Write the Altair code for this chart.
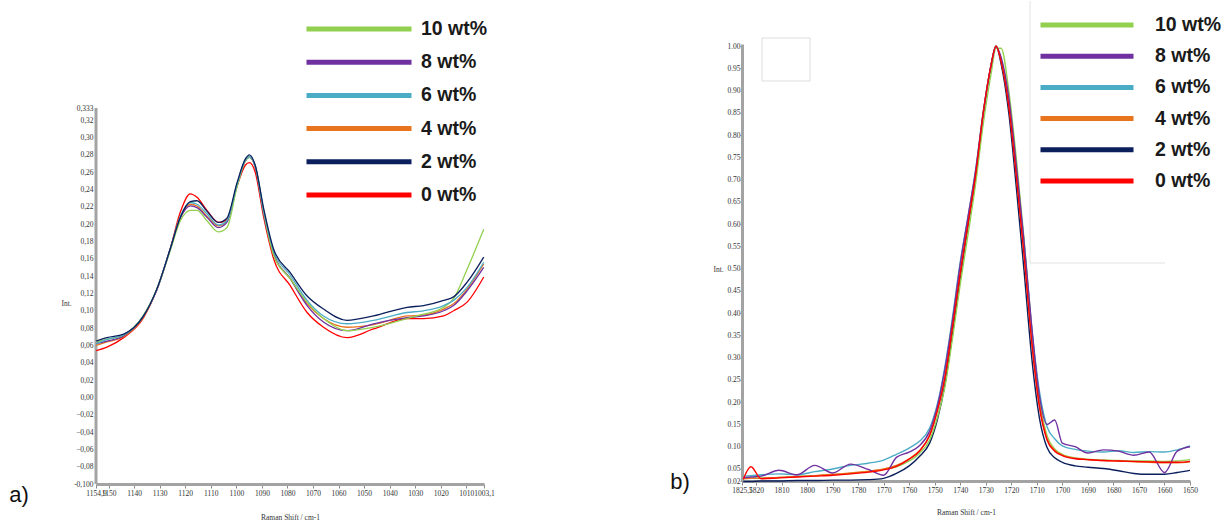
import altair as alt
import pandas as pd

series = ["10 wt%", "8 wt%", "6 wt%", "4 wt%", "2 wt%", "0 wt%"]
colors = ["#92D050", "#7030A0", "#4BACC6", "#E8741E", "#0B1F5C", "#FF0000"]

# ---------------- panel a ----------------
a_shift = [1154.8, 1150.6, 1144.1, 1136.3, 1131.1, 1125.9, 1121.9, 1118.0, 1115.4, 1111.5,
           1107.0, 1103.7, 1099.7, 1096.5, 1094.9, 1092.6, 1089.3, 1085.4, 1078.9, 1072.3,
           1065.9, 1056.7, 1046.3, 1033.2, 1026.7, 1018.9, 1015.0, 1009.7, 1003.2]
a_10 = [0.064, 0.067, 0.072, 0.095, 0.125, 0.169, 0.204, 0.216, 0.216, 0.204,
        0.191, 0.196, 0.243, 0.273, 0.277, 0.267, 0.214, 0.164, 0.137, 0.110,
        0.091, 0.077, 0.081, 0.091, 0.096, 0.104, 0.114, 0.148, 0.194]
a_8 = [0.062, 0.065, 0.071, 0.094, 0.124, 0.171, 0.207, 0.221, 0.219, 0.208,
       0.196, 0.202, 0.245, 0.273, 0.277, 0.266, 0.212, 0.166, 0.137, 0.106,
       0.087, 0.077, 0.085, 0.092, 0.094, 0.100, 0.106, 0.123, 0.150]
a_6 = [0.062, 0.067, 0.072, 0.094, 0.125, 0.171, 0.209, 0.225, 0.223, 0.212,
       0.199, 0.204, 0.246, 0.274, 0.278, 0.267, 0.216, 0.169, 0.141, 0.112,
       0.094, 0.085, 0.089, 0.098, 0.100, 0.106, 0.112, 0.127, 0.156]
a_4 = [0.060, 0.064, 0.070, 0.093, 0.124, 0.171, 0.208, 0.223, 0.221, 0.209,
       0.198, 0.203, 0.246, 0.273, 0.278, 0.266, 0.213, 0.166, 0.137, 0.108,
       0.091, 0.081, 0.084, 0.094, 0.095, 0.102, 0.108, 0.125, 0.154]
a_2 = [0.065, 0.069, 0.073, 0.094, 0.125, 0.171, 0.208, 0.226, 0.227, 0.215,
       0.202, 0.207, 0.248, 0.275, 0.280, 0.268, 0.218, 0.171, 0.144, 0.117,
       0.102, 0.089, 0.094, 0.104, 0.106, 0.112, 0.116, 0.133, 0.162]
a_0 = [0.054, 0.058, 0.069, 0.092, 0.125, 0.171, 0.214, 0.235, 0.231, 0.216,
       0.202, 0.205, 0.244, 0.268, 0.271, 0.260, 0.208, 0.160, 0.129, 0.098,
       0.081, 0.069, 0.079, 0.091, 0.091, 0.094, 0.100, 0.110, 0.139]

a_xticks = [1154.9, 1150, 1140, 1130, 1120, 1110, 1100, 1090, 1080, 1070, 1060,
            1050, 1040, 1030, 1020, 1010, 1003.1]
a_yticks = [-0.10, -0.08, -0.06, -0.04, -0.02, 0.00, 0.02, 0.04, 0.06, 0.08, 0.10,
            0.12, 0.14, 0.16, 0.18, 0.20, 0.22, 0.24, 0.26, 0.28, 0.30, 0.32, 0.333]

# ---------------- panel b ----------------
b_shift = [1825, 1822, 1818, 1811, 1804, 1797, 1790, 1783, 1776, 1770,
           1765, 1760, 1756, 1752, 1749, 1746, 1743, 1740, 1737, 1734,
           1731, 1728, 1726, 1724, 1721, 1718, 1715, 1712, 1709, 1706,
           1703, 1700, 1695, 1690, 1684, 1678, 1672, 1666, 1660, 1655, 1650]
b_10 = [0.029, 0.030, 0.030, 0.031, 0.033, 0.035, 0.037, 0.040, 0.044, 0.049,
        0.055, 0.068, 0.085, 0.115, 0.165, 0.235, 0.345, 0.465, 0.575, 0.690,
        0.825, 0.935, 0.995, 0.995, 0.900, 0.745, 0.565, 0.365, 0.205, 0.125,
        0.095, 0.083, 0.075, 0.072, 0.070, 0.069, 0.068, 0.068, 0.067, 0.068, 0.071]
b_8 = [0.030, 0.032, 0.034, 0.047, 0.037, 0.058, 0.041, 0.061, 0.049, 0.036,
       0.076, 0.088, 0.102, 0.135, 0.190, 0.275, 0.385, 0.510, 0.615, 0.720,
       0.850, 0.955, 0.998, 0.975, 0.885, 0.730, 0.560, 0.370, 0.215, 0.150,
       0.160, 0.108, 0.100, 0.086, 0.093, 0.090, 0.081, 0.088, 0.042, 0.090, 0.100]
b_6 = [0.034, 0.035, 0.037, 0.039, 0.037, 0.044, 0.050, 0.058, 0.063, 0.070,
       0.083, 0.097, 0.112, 0.142, 0.195, 0.280, 0.392, 0.515, 0.615, 0.720,
       0.852, 0.955, 1.000, 0.970, 0.875, 0.720, 0.555, 0.365, 0.225, 0.145,
       0.118, 0.102, 0.094, 0.090, 0.088, 0.091, 0.087, 0.089, 0.088, 0.093, 0.102]
b_4 = [0.028, 0.029, 0.029, 0.031, 0.033, 0.035, 0.038, 0.041, 0.045, 0.050,
       0.058, 0.073, 0.091, 0.126, 0.182, 0.258, 0.372, 0.492, 0.602, 0.712,
       0.850, 0.955, 1.000, 0.967, 0.868, 0.710, 0.535, 0.340, 0.195, 0.118,
       0.092, 0.081, 0.074, 0.071, 0.069, 0.068, 0.066, 0.065, 0.064, 0.064, 0.066]
b_2 = [0.022, 0.022, 0.023, 0.023, 0.024, 0.024, 0.025, 0.025, 0.026, 0.029,
       0.040, 0.057, 0.078, 0.108, 0.160, 0.240, 0.355, 0.480, 0.595, 0.705,
       0.845, 0.955, 1.000, 0.960, 0.850, 0.680, 0.495, 0.300, 0.165, 0.098,
       0.075, 0.065, 0.057, 0.054, 0.051, 0.046, 0.040, 0.038, 0.038, 0.042, 0.047]
b_0 = [0.027, 0.055, 0.028, 0.030, 0.032, 0.034, 0.036, 0.039, 0.043, 0.048,
       0.056, 0.072, 0.090, 0.125, 0.180, 0.255, 0.370, 0.490, 0.600, 0.710,
       0.850, 0.955, 1.000, 0.965, 0.865, 0.705, 0.530, 0.335, 0.190, 0.115,
       0.090, 0.080, 0.073, 0.071, 0.069, 0.068, 0.067, 0.066, 0.065, 0.065, 0.067]

b_xticks = [1825.5, 1820, 1810, 1800, 1790, 1780, 1770, 1760, 1750, 1740, 1730,
            1720, 1710, 1700, 1690, 1680, 1670, 1660, 1650]
b_yticks = [0.023, 0.05, 0.10, 0.15, 0.20, 0.25, 0.30, 0.35, 0.40, 0.45, 0.50,
            0.55, 0.60, 0.65, 0.70, 0.75, 0.80, 0.85, 0.90, 0.95, 1.00]


def long_df(x, cols):
    rows = []
    for name, vals in cols:
        for xv, yv in zip(x, vals):
            rows.append({"shift": xv, "val": yv, "series": name})
    return pd.DataFrame(rows)


dfa = long_df(a_shift, [("0 wt%", a_0), ("4 wt%", a_4), ("8 wt%", a_8),
                        ("10 wt%", a_10), ("6 wt%", a_6), ("2 wt%", a_2)])
dfb = long_df(b_shift, [("2 wt%", b_2), ("10 wt%", b_10), ("4 wt%", b_4),
                        ("6 wt%", b_6), ("8 wt%", b_8), ("0 wt%", b_0)])

one = pd.DataFrame({"t": ["a)"]})
oneb = pd.DataFrame({"t": ["b)"]})

LBL_FONT = "Liberation Serif"
AXIS_GRAY = "#a3a3a3"
axis_common = dict(
    domainColor=AXIS_GRAY, domainWidth=3, tickColor="#8a8a8a", tickWidth=1,
    labelFont=LBL_FONT, labelFontSize=7.5, labelColor="#333333",
    titleFont=LBL_FONT, titleFontSize=7.5, titleFontWeight="normal",
    titleColor="#333333", grid=False, labelOverlap=False, labelFlush=False,
)


def legend(x, y, size, offset, rowpad):
    return alt.Legend(
        title=None, orient="none", legendX=x, legendY=y,
        symbolType="M-5,0L5,0", symbolSize=size, symbolStrokeWidth=5,
        symbolOpacity=1, labelOffset=offset, rowPadding=rowpad, padding=0,
        labelFont="Liberation Sans", labelFontSize=19.5, labelFontWeight="bold",
        labelColor="#1a1a1a", labelLimit=300,
    )


# ---- panel a chart (plot area top shared with panel b; drawn axis starts lower) ----
WA, HA = 388, 440
lines_a = alt.Chart(dfa).mark_line(strokeWidth=1.3, interpolate="monotone").encode(
    x=alt.X("shift:Q",
            scale=alt.Scale(domain=[1003.1, 1154.9], reverse=True, nice=False, zero=False),
            axis=alt.Axis(values=a_xticks, title="Raman Shift / cm-1", tickSize=4,
                          labelPadding=1, titlePadding=17,
                          labelExpr="datum.value > 1152 ? '1154,9' : datum.value < 1005 ? '1003,1' : format(datum.value, 'd')",
                          **axis_common)),
    y=alt.Y("val:Q",
            scale=alt.Scale(domain=[-0.1, 0.408], nice=False, zero=False),
            axis=alt.Axis(values=a_yticks, title="Int.", ticks=False, labelPadding=3,
                          domain=False,
                          titleAngle=0, titleX=-30, titleY=259, titleAlign="center",
                          titleBaseline="middle",
                          labelExpr="datum.value > 0.33 ? '0,333' : datum.value < -0.099 ? '-0,100' : replace(format(datum.value, '.2f'), '.', ',')",
                          **axis_common)),
    color=alt.Color("series:N", scale=alt.Scale(domain=series, range=colors),
                    legend=legend(250, -28, 441, 49, 10.2)),
)
frame_a = alt.Chart(one).mark_rect(opacity=0).encode(
    x=alt.value(-96), x2=alt.value(424), y=alt.value(-43), y2=alt.value(480))
yaxis_a = alt.Chart(one).mark_rule(color=AXIS_GRAY, strokeWidth=3).encode(
    x=alt.value(0), y=alt.value(64), y2=alt.value(440))
tag_a = alt.Chart(one).mark_text(font="Liberation Sans", fontSize=22, align="center",
                                 baseline="alphabetic", color="#111111").encode(
    text="t:N", x=alt.value(-77), y=alt.value(458))
panel_a = alt.layer(frame_a, yaxis_a, lines_a, tag_a).properties(width=WA, height=HA)

# ---- panel b chart ----
WB, HB = 448, 437
lines_b = alt.Chart(dfb).mark_line(strokeWidth=1.4, interpolate="monotone").encode(
    x=alt.X("shift:Q",
            scale=alt.Scale(domain=[1650, 1825.5], reverse=True, nice=False, zero=False),
            axis=alt.Axis(values=b_xticks, title="Raman Shift / cm-1", tickSize=4,
                          labelPadding=1, titlePadding=15,
                          labelExpr="datum.value > 1822 ? '1825,5' : format(datum.value, 'd')",
                          **axis_common)),
    y=alt.Y("val:Q",
            scale=alt.Scale(domain=[0.023, 1.0045], nice=False, zero=False),
            axis=alt.Axis(values=b_yticks, title="Int.", tickSize=2, labelPadding=0,
                          titleAngle=0, titleX=-24, titleY=225, titleAlign="center",
                          titleBaseline="middle",
                          labelExpr="datum.value < 0.03 ? '0.02' : format(datum.value, '.2f')",
                          **axis_common)),
    color=alt.Color("series:N", scale=alt.Scale(domain=series, range=colors),
                    legend=legend(333, -31, 346, 56, 9.2)),
)
frame_b = alt.Chart(oneb).mark_rect(opacity=0).encode(
    x=alt.value(-82), x2=alt.value(484), y=alt.value(-43), y2=alt.value(480))
box_b = alt.Chart(oneb).mark_rect(fill="white", fillOpacity=0, stroke="#dddddd",
                                  strokeWidth=1).encode(
    x=alt.value(20), x2=alt.value(68), y=alt.value(-6), y2=alt.value(37))
vline_b = alt.Chart(oneb).mark_rule(color="#e2e2e2", strokeWidth=1).encode(
    x=alt.value(288), y=alt.value(-43), y2=alt.value(219))
hline_b = alt.Chart(oneb).mark_rule(color="#e2e2e2", strokeWidth=1).encode(
    y=alt.value(219), x=alt.value(288), x2=alt.value(423))
tag_b = alt.Chart(oneb).mark_text(font="Liberation Sans", fontSize=22, align="center",
                                  baseline="alphabetic", color="#111111").encode(
    text="t:N", x=alt.value(-62), y=alt.value(445))
panel_b = alt.layer(frame_b, box_b, vline_b, hline_b, lines_b, tag_b).properties(
    width=WB, height=HB)

chart = alt.hconcat(panel_a, panel_b, spacing=140).resolve_scale(
    color="independent").properties(padding=0, background="white").configure_view(
    stroke=None)

chart.save("out.html", embed_options={"renderer": "svg", "actions": False})
